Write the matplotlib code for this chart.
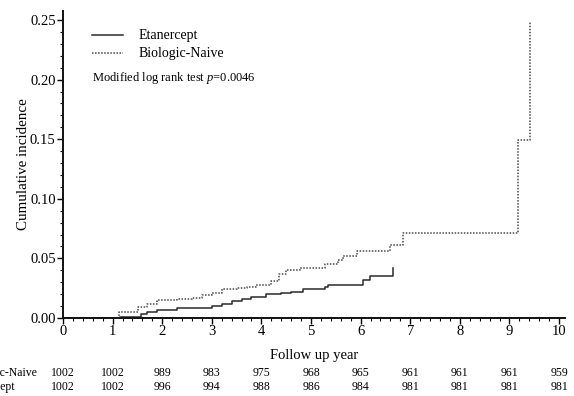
import matplotlib.pyplot as plt
from matplotlib.ticker import MultipleLocator

plt.rcParams['font.family'] = ['Liberation Serif', 'DejaVu Serif']
plt.rcParams['mathtext.fontset'] = 'custom'
plt.rcParams['mathtext.rm'] = 'Liberation Serif'
plt.rcParams['mathtext.it'] = 'Liberation Serif:italic'

# step curves (year, cumulative incidence)
naive_t = [0, 1.12, 1.52, 1.7, 1.9, 2.3, 2.6, 2.8, 3.0, 3.2, 3.5, 3.7, 3.9, 4.2,
           4.35, 4.5, 4.78, 5.28, 5.54, 5.64, 5.92, 6.59, 6.86, 9.17, 9.42]
naive_v = [0, 0.005, 0.009, 0.012, 0.015, 0.016, 0.017, 0.019, 0.021, 0.024, 0.025,
           0.026, 0.028, 0.031, 0.037, 0.040, 0.042, 0.045, 0.049, 0.052, 0.056,
           0.061, 0.071, 0.149, 0.248]
etan_t = [0, 1.15, 1.58, 1.7, 1.9, 2.3, 3.0, 3.2, 3.4, 3.6, 3.8, 4.1, 4.4, 4.6,
          4.84, 5.28, 5.35, 6.04, 6.18, 6.66]
etan_v = [0, 0.001, 0.003, 0.005, 0.007, 0.008, 0.010, 0.012, 0.014, 0.016, 0.018,
          0.020, 0.021, 0.022, 0.024, 0.026, 0.028, 0.032, 0.035, 0.042]

# numbers at risk
years = list(range(11))
risk_naive = [1002, 1002, 989, 983, 975, 968, 965, 961, 961, 961, 959]
risk_etan = [1002, 1002, 996, 994, 988, 986, 984, 981, 981, 981, 981]

W, H = 574, 396
fig = plt.figure(figsize=(W / 100, H / 100), dpi=100)
ax = fig.add_axes([63 / W, 78 / H, 502 / W, 307.5 / H])

ax.step(etan_t, etan_v, where='post', color='#2a2a2a', lw=1.1)
ax.step(naive_t, naive_v, where='post', color='#4a4a4a', lw=1.1, ls=(0, (1, 1)))

ax.set_xlim(0, 10.12)
ax.set_ylim(0, 0.258)
ax.xaxis.set_major_locator(MultipleLocator(1))
ax.xaxis.set_minor_locator(MultipleLocator(0.2))
ax.yaxis.set_major_locator(MultipleLocator(0.05))
ax.yaxis.set_minor_locator(MultipleLocator(0.01))
ax.yaxis.set_major_formatter(plt.FormatStrFormatter('%.2f'))
for s in ['top', 'right']:
    ax.spines[s].set_visible(False)
for s in ['left', 'bottom']:
    ax.spines[s].set_linewidth(1.4)
    ax.spines[s].set_color('#111111')
ax.tick_params(which='major', length=4.3, width=1, labelsize=10.5, pad=1)
ax.tick_params(which='minor', length=2.3, width=0.8)

ax.set_xlabel('Follow up year', fontsize=10.5, labelpad=8)
ax.set_ylabel('Cumulative incidence', fontsize=10.8, labelpad=0)

# legend drawn by hand
ax.plot([0.585, 1.21], [0.2374, 0.2374], color='#2a2a2a', lw=1.1)
ax.plot([0.585, 1.21], [0.222, 0.222], color='#4a4a4a', lw=1.1, ls=(0, (1, 1)))
ax.text(1.53, 0.2374, 'Etanercept', fontsize=10, va='center')
ax.text(1.53, 0.222, 'Biologic-Naive', fontsize=10, va='center')
ax.text(0.585, 0.2013, 'Modified log rank test $p$=0.0046', fontsize=9, va='center')

# risk table under the axis
for x, a, b in zip(years, risk_naive, risk_etan):
    ax.text(x, -0.0461, str(a), ha='center', va='center', fontsize=8.5, clip_on=False)
    ax.text(x, -0.0579, str(b), ha='center', va='center', fontsize=8.5, clip_on=False)
fig.text(-35 / W, 1 - 373 / H, 'Biologic-Naive', fontsize=8.5, va='center', ha='left')
fig.text(-35 / W, 1 - 387 / H, 'Etanercept', fontsize=8.5, va='center', ha='left')

fig.savefig('out.png', dpi=100)
